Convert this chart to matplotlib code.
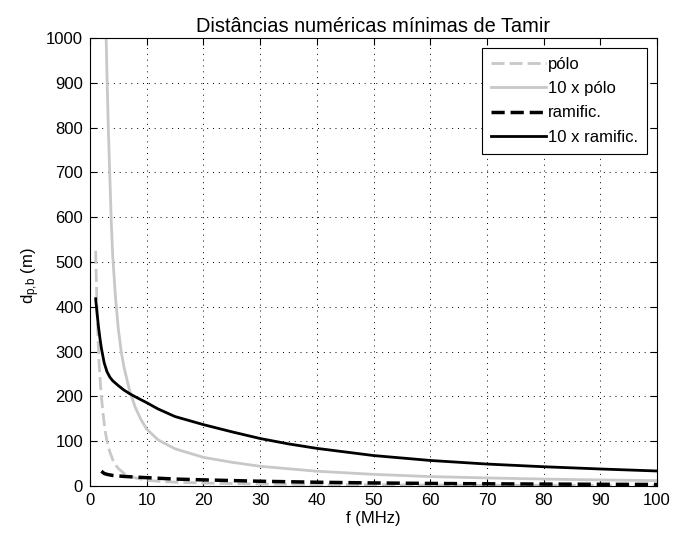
import matplotlib
matplotlib.use("Agg")
import matplotlib.pyplot as plt

# pólo (gray dashed)
f_polo = [1.0, 1.1, 1.2, 1.3, 1.4, 1.6, 1.8, 2.0, 2.25, 2.5, 2.75, 3.0, 3.5, 4.0,
          4.5, 5, 6, 7, 8, 10, 12, 15, 20, 30, 40, 50, 60, 70, 80, 90, 100]
polo = [525, 470, 420, 375, 335, 275, 235, 200, 168, 140, 118, 100, 76, 59,
        47, 39, 28, 22, 18, 13, 10.5, 8.5, 6.5, 4.4, 3.3, 2.6, 2.1, 1.8, 1.55, 1.35, 1.2]

# 10 x pólo (gray solid)
f_polo10 = [2.5, 2.85, 3.0, 3.25, 3.5, 3.75, 4.0, 4.5, 5.0, 5.5, 6.0, 7.0, 8.0, 9.0,
            10, 12, 15, 20, 25, 30, 40, 50, 60, 70, 80, 90, 100]
polo10 = [1300, 1000, 915, 790, 690, 590, 515, 420, 350, 300, 265, 212, 175, 148,
          127, 103, 83, 64, 53, 44, 33, 26, 21, 18, 15.5, 13.5, 12]

# ramific. (black dashed)
f_ramif = [2.0, 2.5, 3, 4, 5, 6, 8, 10, 15, 20, 30, 40, 50, 60, 70, 80, 90, 100]
ramif = [33, 28, 26, 23.5, 22.4, 21.4, 19.9, 18.6, 15.5, 13.7, 10.6, 8.4, 6.8,
         5.7, 4.9, 4.3, 3.8, 3.4]

# 10 x ramific. (black solid)
f_ramif10 = [1.0, 1.25, 1.5, 1.75, 2.0, 2.5, 3.0, 3.5, 4, 5, 6, 7, 8, 10, 12, 15,
             20, 25, 30, 35, 40, 50, 60, 70, 80, 90, 100]
ramif10 = [418, 385, 355, 330, 308, 275, 255, 243, 235, 224, 214, 206, 199, 186,
           172, 155, 137, 121, 106, 94, 84, 68, 57, 49, 43, 38, 33.5]

x_ticks = list(range(0, 101, 10))
y_ticks = list(range(0, 1001, 100))

plt.rcParams['font.family'] = ['Liberation Sans', 'DejaVu Sans']
plt.rcParams['font.size'] = 12
plt.rcParams['mathtext.fontset'] = 'custom'
plt.rcParams['mathtext.rm'] = 'Liberation Sans'
plt.rcParams['mathtext.it'] = 'Liberation Sans'
plt.rcParams['mathtext.default'] = 'regular'

fig = plt.figure(figsize=(6.82, 5.33), dpi=100, facecolor='white')
ax = fig.add_axes([90/682, 47/533, 567/682, 448/533])

gray = '#c8c8c8'
ax.plot(f_polo, polo, color=gray, lw=2, linestyle=(0, (4.7, 1.8)), label='pólo')
ax.plot(f_polo10, polo10, color=gray, lw=2, label='10 x pólo')
ax.plot(f_ramif, ramif, color='black', lw=2.5, linestyle=(0, (3.8, 1.7)), label='ramific.')
ax.plot(f_ramif10, ramif10, color='black', lw=2, label='10 x ramific.')

ax.set_xlim(0, 100)
ax.set_ylim(0, 1000)
ax.set_xticks(x_ticks)
ax.set_yticks(y_ticks)
ax.grid(True, color='black', linestyle=(0, (1, 5)), lw=0.7)
ax.tick_params(direction='in', top=True, right=True, length=5, width=0.8, pad=5)
for sp in ax.spines.values():
    sp.set_linewidth(0.8)

ax.set_title('Distâncias numéricas mínimas de Tamir', pad=4)
ax.set_xlabel('f (MHz)', labelpad=2)
ax.set_ylabel('d$_{p{,}b}$ (m)')
ax.yaxis.set_label_coords(-0.085, 0.47)

leg = ax.legend(loc='upper right', fancybox=False, edgecolor='black', framealpha=1,
                handlelength=3.3, handletextpad=0.1, labelspacing=0.55,
                borderaxespad=0.6, borderpad=0.55)
leg.get_frame().set_linewidth(0.8)

fig.savefig('out.png', dpi=100, facecolor='white')
